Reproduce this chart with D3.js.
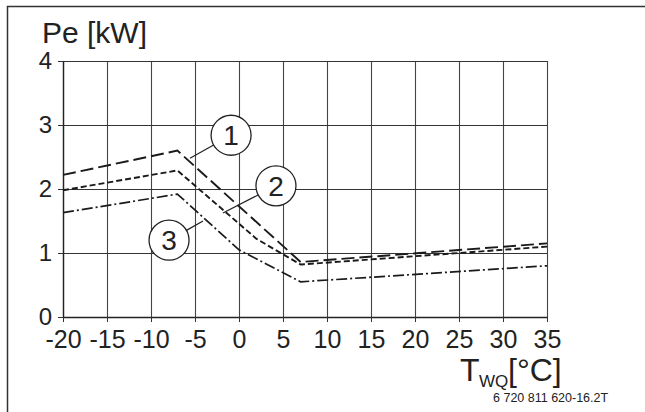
<!DOCTYPE html>
<html><head><meta charset="utf-8">
<script src="https://cdn.jsdelivr.net/npm/d3@7"></script>
<style>
html,body{margin:0;padding:0;background:#fff;}
svg{display:block;font-family:"Liberation Sans",Arial,sans-serif;}
</style></head>
<body><svg id="c" width="645" height="412"></svg>
<script>
// Data
const xTicks = [-20,-15,-10,-5,0,5,10,15,20,25,30,35];
const xTickLabels = ["-20","-15","-10","-5","0","5","10","15","20","25","30","35"];
const yTicks = [0,1,2,3,4];
const yTickLabels = ["0","1","2","3","4"];
const curve1 = [[-20,2.22],[-7,2.6],[7,0.86],[35,1.15]];
const curve2 = [[-20,1.98],[-7,2.29],[2,1.22],[7,0.82],[35,1.1]];
const curve3 = [[-20,1.63],[-7,1.92],[0,1.05],[7,0.55],[35,0.8]];
const callouts = [
  {label:"1", cx:-0.9, cy:2.84, ex:-5.57, ey:2.48},
  {label:"2", cx:4.2, cy:2.05, ex:-1.82, ey:1.625},
  {label:"3", cx:-7.95, cy:1.2, ex:-4.09, ey:1.5}
];

const svg = d3.select("#c");
const x = d3.scaleLinear().domain([-20,35]).range([63,547]);
const y = d3.scaleLinear().domain([0,4]).range([317,61]);

// frame
svg.append("path").attr("d","M7.5,412V6.5H645").attr("fill","none").attr("stroke","#333").attr("stroke-width",1.5);

// grid
svg.append("g").attr("transform",`translate(0,${y(0)})`)
  .call(d3.axisBottom(x).tickValues(xTicks).tickSize(-(y(0)-y(4))).tickFormat(""))
  .call(g=>{g.select(".domain").remove(); g.selectAll("line").attr("stroke","#444").attr("stroke-width",1.1);});
svg.append("g").attr("transform",`translate(${x(-20)},0)`)
  .call(d3.axisLeft(y).tickValues(yTicks).tickSize(-(x(35)-x(-20))).tickFormat(""))
  .call(g=>{g.select(".domain").remove(); g.selectAll("line").attr("stroke","#333").attr("stroke-width",1.1);});

// axes
const xa = svg.append("g").attr("transform",`translate(0,${y(0)})`)
  .call(d3.axisBottom(x).tickValues(xTicks).tickSize(5).tickSizeOuter(0).tickPadding(8)
    .tickFormat((d,i)=>xTickLabels[i]));
xa.select(".domain").attr("stroke","#222").attr("stroke-width",1.4);
xa.selectAll("line").attr("stroke","#333");
xa.selectAll("text").attr("font-size",25).attr("fill","#222").attr("font-family","Liberation Sans, Arial, sans-serif");
const ya = svg.append("g").attr("transform",`translate(${x(-20)},0)`)
  .call(d3.axisLeft(y).tickValues(yTicks).tickSize(5).tickSizeOuter(0).tickPadding(6)
    .tickFormat((d,i)=>yTickLabels[i]));
ya.select(".domain").attr("stroke","#222").attr("stroke-width",1.4);
ya.selectAll("line").attr("stroke","#333");
ya.selectAll("text").attr("font-size",24).attr("fill","#222").attr("font-family","Liberation Sans, Arial, sans-serif");

// curves
const line = d3.line().x(d=>x(d[0])).y(d=>y(d[1]));
function drawCurve(data, dash, w){
  svg.append("path").datum(data).attr("d",line).attr("fill","none")
    .attr("stroke","#1a1a1a").attr("stroke-width",w).attr("stroke-dasharray",dash);
}
drawCurve(curve1,"13,5",1.9);
drawCurve(curve2,"6,3",1.9);
drawCurve(curve3,"11,3,2,3",1.7);

// callouts
const r = 20;
callouts.forEach(c=>{
  const px=x(c.cx), py=y(c.cy), ex=x(c.ex), ey=y(c.ey);
  const dx=ex-px, dy=ey-py, L=Math.hypot(dx,dy);
  svg.append("line").attr("x1",px+dx/L*r).attr("y1",py+dy/L*r).attr("x2",ex).attr("y2",ey)
    .attr("stroke","#222").attr("stroke-width",1.2);
  svg.append("circle").attr("cx",px).attr("cy",py).attr("r",r).attr("fill","#fff").attr("stroke","#222").attr("stroke-width",1.3);
  svg.append("text").attr("x",px).attr("y",py).attr("dy","0.36em").attr("text-anchor","middle")
    .attr("font-size",28).attr("fill","#222").text(c.label);
});

// titles
svg.append("text").attr("x",42).attr("y",43).attr("font-size",30).attr("fill","#222").text("Pe [kW]");
svg.append("text").attr("x",460).attr("y",381).attr("font-size",32).attr("fill","#222").text("T");
svg.append("text").attr("x",479).attr("y",387).attr("font-size",17).attr("fill","#222").text("WQ");
svg.append("text").attr("x",508).attr("y",381).attr("font-size",32).attr("fill","#222").text("[°C]");
svg.append("text").attr("x",493).attr("y",402).attr("font-size",12.5).attr("fill","#222").text("6 720 811 620-16.2T");
</script></body></html>
